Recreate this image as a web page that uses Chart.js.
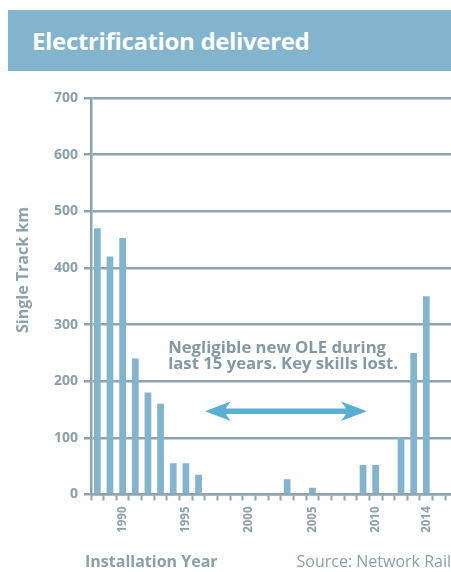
<!DOCTYPE html>
<html>
<head>
<meta charset="utf-8">
<title>Electrification delivered</title>
<script src="https://cdn.jsdelivr.net/npm/chart.js@4.4.1/dist/chart.umd.min.js"></script>
<style>
  html, body { margin: 0; padding: 0; background: #ffffff; }
  #page { position: relative; width: 451px; height: 572px; overflow: hidden; font-family: "Open Sans", "Noto Sans", sans-serif; }
  #band { position: absolute; left: 8px; top: 10px; width: 443px; height: 61px; background: #82b4ce; }
  #band h1 { position: absolute; left: 24px; top: 18.7px; margin: 0; font-size: 24px; line-height: 24px; letter-spacing: -0.35px; font-weight: 700; color: #ffffff; white-space: nowrap; }
  #chartBox { position: absolute; left: 0; top: 0; width: 451px; height: 572px; }
  .ytitle { position: absolute; left: 22px; top: 270px; transform: translate(-50%, -50%) rotate(-90deg); font-size: 16px; line-height: 16px; font-weight: 700; color: #8aa0ad; white-space: nowrap; }
  .foot { position: absolute; top: 552.5px; font-size: 16px; line-height: 16px; color: #8aa0ad; white-space: nowrap; }
  #xtitle { left: 85px; font-weight: 700; }
  #source { right: 0; font-weight: 400; }
</style>
</head>
<body>
<div id="page">
  <div id="band"><h1>Electrification delivered</h1></div>
  <div id="chartBox"><canvas id="chart"></canvas></div>
  <div class="ytitle">Single Track km</div>
  <div class="foot" id="xtitle">Installation Year</div>
  <div class="foot" id="source">Source: Network Rail</div>
</div>
<script>
// Single track km of overhead line electrification installed per year
const years = [1988, 1989, 1990, 1991, 1992, 1993, 1994, 1995, 1996, 1997, 1998, 1999, 2000, 2001,
               2002, 2003, 2004, 2005, 2006, 2007, 2008, 2009, 2010, 2011, 2012, 2013, 2014];
const singleTrackKm = [470, 420, 453, 240, 180, 160, 55, 55, 35, 0, 0, 0, 0, 0,
                       0, 27, 0, 12, 0, 0, 0, 52, 52, 0, 100, 250, 350];
const yearLabels = [1990, 1995, 2000, 2005, 2010, 2014];
const valueTicks = [0, 100, 200, 300, 400, 500, 600, 700];

// Callout: the quiet period between the two building phases
const calloutLines = ['Negligible new OLE during', 'last 15 years. Key skills lost.'];
const calloutAt = { year: 1993.6, km: 250 };
const arrowSpan = { fromYear: 1996.5, toYear: 2009.3, km: 147 };

const axisGrey = '#8ea4b0';
const textGrey = '#8aa0ad';
const barBlue = '#82b4ce';
const arrowBlue = '#5aaed1';

const callout = {
  id: 'callout',
  afterDraw(chart) {
    const { ctx, scales } = chart;
    const x = scales.x, y = scales.y;

    // text
    ctx.save();
    ctx.fillStyle = '#8399a7';
    ctx.font = '700 16.7px "Open Sans", "Noto Sans", sans-serif';
    ctx.textAlign = 'left';
    ctx.textBaseline = 'alphabetic';
    const tx = x.getPixelForValue(calloutAt.year);
    let ty = y.getPixelForValue(calloutAt.km);
    calloutLines.forEach(line => { ctx.fillText(line, tx, ty); ty += 16.5; });
    ctx.restore();

    // double-headed arrow
    const x1 = x.getPixelForValue(arrowSpan.fromYear);
    const x2 = x.getPixelForValue(arrowSpan.toYear);
    const ay = y.getPixelForValue(arrowSpan.km);
    const headLen = 26, notch = 21, headHalf = 9.7, shaftHalf = 2.8;
    ctx.save();
    ctx.fillStyle = arrowBlue;
    ctx.beginPath();
    ctx.moveTo(x1, ay);
    ctx.lineTo(x1 + headLen, ay - headHalf);
    ctx.quadraticCurveTo(x1 + notch + 1, ay - shaftHalf - 2, x1 + notch, ay - shaftHalf);
    ctx.lineTo(x2 - notch, ay - shaftHalf);
    ctx.quadraticCurveTo(x2 - notch - 1, ay - shaftHalf - 2, x2 - headLen, ay - headHalf);
    ctx.lineTo(x2, ay);
    ctx.lineTo(x2 - headLen, ay + headHalf);
    ctx.quadraticCurveTo(x2 - notch - 1, ay + shaftHalf + 2, x2 - notch, ay + shaftHalf);
    ctx.lineTo(x1 + notch, ay + shaftHalf);
    ctx.quadraticCurveTo(x1 + notch + 1, ay + shaftHalf + 2, x1 + headLen, ay + headHalf);
    ctx.closePath();
    ctx.fill();
    ctx.restore();
  }
};

// year boundaries carry the small tick marks under the bars
const yearEdges = [];
for (let i = 0; i <= years.length; i++) yearEdges.push(years[0] - 0.5 + i);
yearEdges.push(years[years.length - 1] + 1.5);

new Chart(document.getElementById('chart'), {
  type: 'bar',
  data: {
    datasets: [{
      data: years.map((yr, i) => ({ x: yr, y: singleTrackKm[i] })),
      backgroundColor: barBlue,
      borderWidth: 0,
      barPercentage: 0.53,
      categoryPercentage: 1,
      xAxisID: 'x',
      yAxisID: 'y'
    }]
  },
  options: {
    responsive: true,
    maintainAspectRatio: false,
    animation: false,
    events: [],
    layout: { padding: { top: 98, right: 0, bottom: 31.5, left: 0 } },
    plugins: { legend: { display: false }, tooltip: { enabled: false } },
    scales: {
      x: {
        type: 'linear',
        position: 'bottom',
        weight: 0,
        z: 1,
        min: years[0] - 0.5,
        max: 2015.95,
        offset: false,
        afterBuildTicks: s => { s.ticks = yearEdges.map(v => ({ value: v })); },
        ticks: { display: false },
        grid: { drawOnChartArea: false, drawTicks: true, tickLength: 6, tickWidth: 2, tickColor: axisGrey, offset: false },
        border: { display: true, color: axisGrey, width: 2.5 },
        afterFit: s => { s.height = 6; }
      },
      xl: {
        type: 'linear',
        position: 'bottom',
        weight: 1,
        min: years[0] - 0.5,
        max: 2015.95,
        offset: false,
        afterBuildTicks: s => { s.ticks = yearLabels.map(v => ({ value: v })); },
        ticks: {
          autoSkip: false,
          minRotation: 90,
          maxRotation: 90,
          padding: 6,
          color: textGrey,
          font: { family: '"Open Sans", "Noto Sans", sans-serif', size: 11.5, weight: '700' },
          callback: v => String(v)
        },
        grid: { display: false, drawTicks: false },
        border: { display: false },
        afterFit: s => { s.height = 40; }
      },
      y: {
        type: 'linear',
        position: 'left',
        z: 1,
        min: 0,
        max: 700,
        afterBuildTicks: s => { s.ticks = valueTicks.map(v => ({ value: v })); },
        ticks: {
          padding: 6,
          color: textGrey,
          font: { family: '"Open Sans", "Noto Sans", sans-serif', size: 14, weight: '700' }
        },
        grid: { color: axisGrey, lineWidth: 2.5, drawTicks: true, tickLength: 7, tickColor: axisGrey, tickWidth: 2.5 },
        border: { display: true, color: axisGrey, width: 2.5 },
        afterFit: s => { s.width = 91; }
      }
    }
  },
  plugins: [callout]
});
</script>
</body>
</html>
